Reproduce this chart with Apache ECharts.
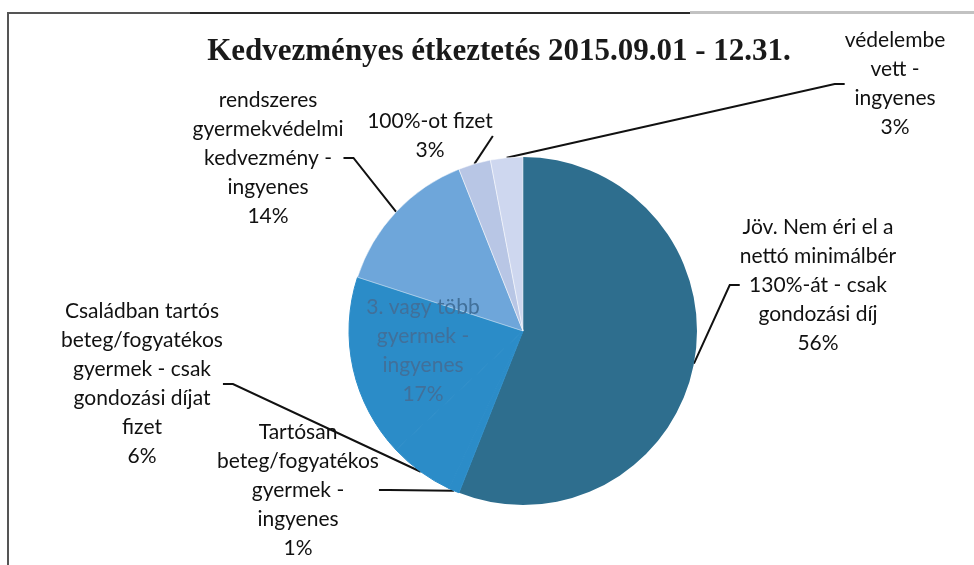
<!DOCTYPE html>
<html>
<head>
<meta charset="utf-8">
<script src="https://cdn.jsdelivr.net/npm/echarts@6/dist/echarts.min.js"></script>
<style>
html,body{margin:0;padding:0;background:#fff;}
#chart{width:974px;height:565px;}
</style>
</head>
<body>
<div id="chart"></div>
<script>
// ---- data ----
var chartTitle = 'Kedvezményes étkeztetés 2015.09.01 - 12.31.';
var categories = [
  'Jöv. Nem éri el a\nnettó minimálbér\n130%-át - csak\ngondozási díj',
  'Tartósan\nbeteg/fogyatékos\ngyermek -\ningyenes',
  'Családban tartós\nbeteg/fogyatékos\ngyermek - csak\ngondozási díjat\nfizet',
  '3. vagy több\ngyermek -\ningyenes',
  'rendszeres\ngyermekvédelmi\nkedvezmény -\ningyenes',
  '100%-ot fizet',
  'védelembe\nvett -\ningyenes'
];
var values = [56, 1, 6, 17, 14, 3, 3];

// ---- styles / layout (not data) ----
var sliceColors = ['#2e6e8e', '#2b8cc8', '#2b8cc8', '#2b8cc8', '#6ea6da', '#b8c6e5', '#ced7ef'];
var labelPos = [
  [818, 285], [298, 490], [142, 384], [423, 351], [268, 158], [430, 136], [895, 84]
];

var chart = echarts.init(document.getElementById('chart'));
var data = categories.map(function (c, i) {
  var item = { name: c, value: values[i], itemStyle: { color: sliceColors[i] } };
  if (i === 3) {
    item.label = { position: 'inside', color: '#41709a' };
    item.labelLine = { show: false };
  }
  if (i >= 1 && i <= 3) {
    item.itemStyle.borderColor = sliceColors[i];
    item.itemStyle.borderWidth = 1;
  }
  if (i >= 4) {
    item.itemStyle.borderColor = 'rgba(255,255,255,0.6)';
    item.itemStyle.borderWidth = 0.8;
  }
  return item;
});

chart.setOption({
  animation: false,
  title: {
    text: chartTitle,
    left: 494, top: 31, textAlign: 'center',
    textStyle: { fontFamily: 'Liberation Serif', fontWeight: 'bold', fontSize: 31, color: '#1a1a1a' }
  },
  graphic: {
    elements: [
      { type: 'polyline', z: 50, shape: { points: [[8, 565], [8, 13], [690, 13]] }, style: { stroke: '#555', lineWidth: 2, fill: null } },
      { type: 'line', z: 51, shape: { x1: 190, y1: 13, x2: 690, y2: 13 }, style: { stroke: '#2a2a2a', lineWidth: 2 } },
      { type: 'line', z: 51, shape: { x1: 690, y1: 12.5, x2: 974, y2: 12.5 }, style: { stroke: '#c2c2c2', lineWidth: 3 } }
    ]
  },
  series: [{
    type: 'pie',
    center: [523, 331],
    radius: 174,
    startAngle: 90,
    clockwise: true,
    data: data,
    itemStyle: { borderWidth: 0 },
    label: {
      show: true,
      formatter: '{b}\n{c}%',
      fontFamily: 'Lato',
      fontSize: 21,
      lineHeight: 29,
      color: '#111',
      align: 'center'
    },
    labelLine: {
      show: true,
      length: 10,
      length2: 10,
      lineStyle: { color: '#111', width: 2 }
    },
    labelLayout: function (p) {
      var pos = labelPos[p.dataIndex];
      return { x: pos[0], y: pos[1], align: 'center', verticalAlign: 'middle' };
    }
  }]
});
</script>
</body>
</html>
